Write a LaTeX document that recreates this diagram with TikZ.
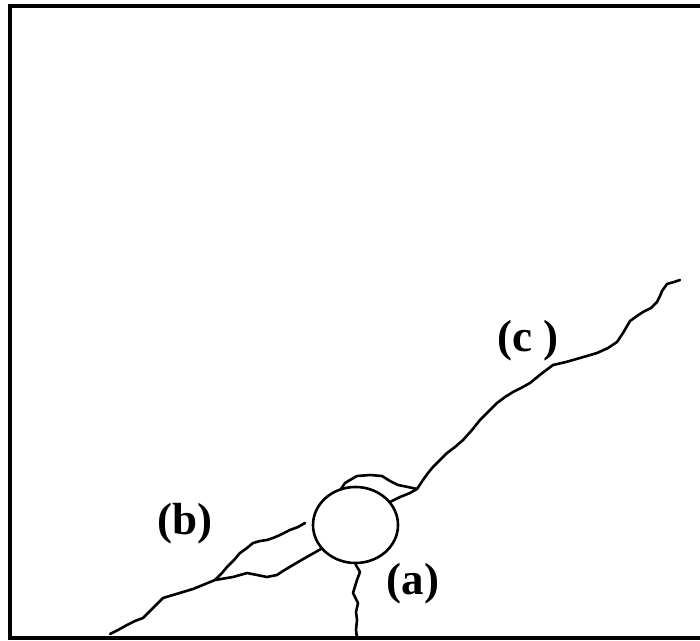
\documentclass[tikz,border=0pt]{standalone}
\usepackage{fontspec}
\setmainfont{Liberation Serif}
\usetikzlibrary{shapes.geometric}
\begin{document}
\begin{tikzpicture}[x=0.5pt,y=-0.5pt,
  crack/.style={line width=1.3pt,line join=round,line cap=round},
  frameline/.style={line width=2pt},
  tag/.style={font=\fontsize{22.5}{22.5}\selectfont\bfseries,inner sep=0pt}]
\useasboundingbox (0,0) rectangle (700,641);
\clip (0,0) rectangle (700,641);
\fill[white] (0,0) rectangle (700,641);
% specimen outline (right side runs past the edge)
\draw[frameline] (740,6) -- (10,6) -- (10,638) -- (740,638);
% inclusion
\node[draw,line width=1.3pt,ellipse,minimum width=42.5pt,minimum height=38pt,inner sep=0pt] (hole) at (355.5,525) {};
% labels
\node[tag] (la) at (413,584) {(a)};
\node[tag] (lb) at (185,524) {(b)};
\node[tag] (lc) at (528,341) {(c )};
% crack (a): from the bottom of the inclusion down to the edge
\draw[crack] (hole.south) -- (360,572) -- (357,580) -- (353,593) -- (358,603) -- (356,612) -- (357,620) -- (356,630) -- (357,638);
% main crack running left-down from the inclusion
\coordinate (jb) at (215,580);
\draw[crack] (321,549) -- (305,558) -- (293,565) -- (283,571) -- (277,575) -- (267,577) -- (257,575) -- (247,573) -- (233,577) -- (jb)
  -- (193,589) -- (173,595) -- (163,598) -- (152,609) -- (143,618) -- (135,621) -- (127,625) -- (118,630) -- (110,634);
% branch (b)
\draw[crack] (jb) -- (222,573) -- (227,567) -- (234,560) -- (240,553) -- (247,548) -- (253,543) -- (260,541) -- (267,540) -- (273,538) -- (280,535) -- (290,530) -- (298,527) -- (305,523);
% flake above the inclusion
\coordinate (jc) at (417,489);
\draw[crack] (341,489) -- (345,483) -- (350,480) -- (357,476) -- (370,475) -- (382,476) -- (390,481) -- (398,485) -- (408,487) -- (jc);
\draw[crack] (390,502) -- (400,497) -- (410,493) -- (jc);
% crack (c) towards the upper right
\draw[crack] (jc) -- (423,480) -- (428,473) -- (433,467) -- (440,460) -- (447,453) -- (455,447) -- (463,440) -- (472,430) -- (480,420) -- (489,411) -- (497,403) -- (505,397) -- (513,392) -- (521,388) -- (530,383) -- (541,374) -- (553,365)
  -- (566,362) -- (580,358) -- (597,353) -- (608,348) -- (617,342) -- (623,333) -- (630,321) -- (637,316) -- (643,312) -- (651,308) -- (657,302) -- (660,296) -- (662,291) -- (667,284) -- (674,282) -- (680,280);
\end{tikzpicture}
\end{document}
